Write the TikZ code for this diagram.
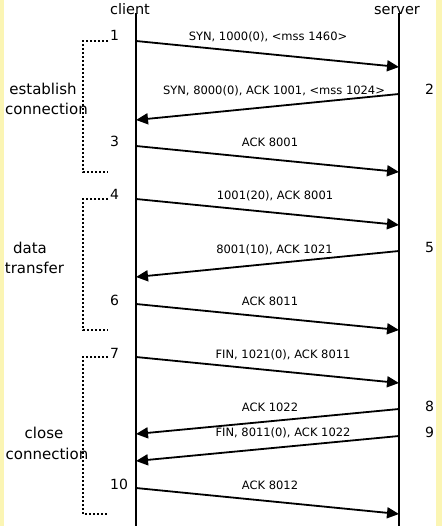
\documentclass[tikz,border=0pt]{standalone}
\usepackage{fontspec}
\setmainfont{DejaVu Sans}
\usetikzlibrary{arrows.meta}
\definecolor{marginyellow}{RGB}{251,245,180}
\begin{document}
\begin{tikzpicture}[x=1pt,y=-1pt,
  lifeline/.style={line width=2pt},
  msg/.style={line width=1.8pt,-{Triangle[length=12pt,width=11pt]}},
  msglabel/.style={anchor=base,inner sep=0pt,font=\fontsize{11.5}{13}\selectfont},
  stepnum/.style={anchor=base west,inner sep=0pt,font=\fontsize{14}{16}\selectfont},
  grouplabel/.style={anchor=base,inner sep=0pt,font=\fontsize{15}{17}\selectfont},
  bracket/.style={line width=2pt,dash pattern=on 2pt off 2pt},
  actor/.style={anchor=base,inner sep=0pt,font=\fontsize{14.5}{16}\selectfont}]
\useasboundingbox (0,0) rectangle (442,526);
\fill[marginyellow] (0,0) rectangle (442,526);
\fill[white] (4,0) rectangle (436,526);

% actors
\node[actor] (client) at (130,15) {client};
\node[actor] (server) at (397,15) {server};
\coordinate (ctop) at (136,13);
\coordinate (cbot) at (136,526);
\coordinate (stop) at (399,13);
\coordinate (sbot) at (399,526);
\draw[lifeline] (ctop) -- (cbot);
\draw[lifeline] (stop) -- (sbot);

% message end points
\coordinate (c1) at (136,41);   \coordinate (s1) at (399,67);
\coordinate (s2) at (399,94);   \coordinate (c2) at (136,120);
\coordinate (c3) at (136,146);  \coordinate (s3) at (399,172);
\coordinate (c4) at (136,199);  \coordinate (s4) at (399,225);
\coordinate (s5) at (399,251);  \coordinate (c5) at (136,277);
\coordinate (c6) at (136,304);  \coordinate (s6) at (399,330);
\coordinate (c7) at (136,357);  \coordinate (s7) at (399,383);
\coordinate (s8) at (399,409);  \coordinate (c8) at (136,434);
\coordinate (s9) at (399,436);  \coordinate (c9) at (136,461);
\coordinate (c10) at (136,488); \coordinate (s10) at (399,514);

\draw[msg] (c1) -- (s1);
\draw[msg] (s2) -- (c2);
\draw[msg] (c3) -- (s3);
\draw[msg] (c4) -- (s4);
\draw[msg] (s5) -- (c5);
\draw[msg] (c6) -- (s6);
\draw[msg] (c7) -- (s7);
\draw[msg] (s8) -- (c8);
\draw[msg] (s9) -- (c9);
\draw[msg] (c10) -- (s10);

% message labels
\node[msglabel] (m1) at (268,41) {SYN, 1000(0), <mss 1460>};
\node[msglabel] (m2) at (274,95) {SYN, 8000(0), ACK 1001, <mss 1024>};
\node[msglabel] (m3) at (270,147) {ACK 8001};
\node[msglabel] (m4) at (275,200) {1001(20), ACK 8001};
\node[msglabel] (m5) at (274.5,253) {8001(10), ACK 1021};
\node[msglabel] (m6) at (270,305) {ACK 8011};
\node[msglabel] (m7) at (283,358) {FIN, 1021(0), ACK 8011};
\node[msglabel] (m8) at (270,411) {ACK 1022};
\node[msglabel] (m9) at (283,436) {FIN, 8011(0), ACK 1022};
\node[msglabel] (m10) at (270,489) {ACK 8012};

% step numbers
\node[stepnum] (n1) at (110,41) {1};
\node[stepnum] (n2) at (425,95) {2};
\node[stepnum] (n3) at (110,147) {3};
\node[stepnum] (n4) at (110,200) {4};
\node[stepnum] (n5) at (425,252) {5};
\node[stepnum] (n6) at (110,305) {6};
\node[stepnum] (n7) at (110,358) {7};
\node[stepnum] (n8) at (425,411) {8};
\node[stepnum] (n9) at (425,437) {9};
\node[stepnum] (n10) at (110,489) {10};

% brackets
\coordinate (g1a) at (108,41);  \coordinate (g1b) at (83,41);
\coordinate (g1c) at (83,172);  \coordinate (g1d) at (108,172);
\coordinate (g2a) at (108,199); \coordinate (g2b) at (83,199);
\coordinate (g2c) at (83,330);  \coordinate (g2d) at (108,330);
\coordinate (g3a) at (108,357); \coordinate (g3b) at (83,357);
\coordinate (g3c) at (83,514);  \coordinate (g3d) at (108,514);
\draw[bracket] (g1a) -- (g1b) -- (g1c) -- (g1d);
\draw[bracket] (g2a) -- (g2b) -- (g2c) -- (g2d);
\draw[bracket] (g3a) -- (g3b) -- (g3c) -- (g3d);

% group labels
\node[grouplabel] (e1) at (43,95) {establish};
\node[grouplabel] (e2) at (46.5,115) {connection};
\node[grouplabel] (d1) at (30,253) {data};
\node[grouplabel] (d2) at (34.5,273) {transfer};
\node[grouplabel] (k1) at (44,438) {close};
\node[grouplabel] (k2) at (47,459) {connection};
\end{tikzpicture}
\end{document}
